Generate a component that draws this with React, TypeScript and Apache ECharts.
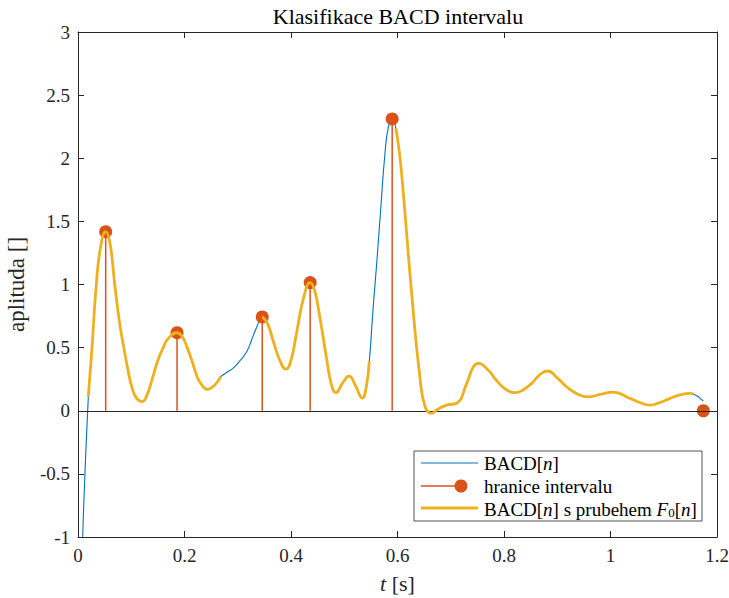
import React, { useEffect, useRef } from "react";
import * as echarts from "echarts";

const tValues = [
  0.0088, 0.0194, 0.0263, 0.0344, 0.0426, 0.052, 0.060, 0.069, 0.078, 0.086,
  0.094, 0.101, 0.110, 0.1208, 0.130, 0.140, 0.150, 0.160, 0.170, 0.186,
  0.196, 0.205, 0.2144, 0.222, 0.230, 0.243, 0.256, 0.268, 0.280, 0.292,
  0.305, 0.317, 0.326, 0.336, 0.346, 0.356, 0.3668, 0.378, 0.3906, 0.400,
  0.4106, 0.424, 0.436, 0.444, 0.4514, 0.467, 0.476, 0.4845, 0.497, 0.509,
  0.521, 0.534, 0.541, 0.547, 0.554, 0.561, 0.568, 0.5765, 0.583, 0.590,
  0.597, 0.604, 0.611, 0.6266, 0.642, 0.652, 0.6636, 0.675, 0.692, 0.711,
  0.730, 0.742, 0.752, 0.7706, 0.786, 0.803, 0.8206, 0.836, 0.852, 0.867,
  0.882, 0.900, 0.9175, 0.937, 0.958, 0.981, 1.005, 1.0366, 1.055, 1.074,
  1.093, 1.112, 1.130, 1.148, 1.1555, 1.1743,
];
const bacdValues = [
  -1.0, 0.111, 0.5, 1.0, 1.3, 1.418, 1.33, 1.0, 0.7, 0.5,
  0.32, 0.19, 0.1, 0.072, 0.13, 0.26, 0.4, 0.5, 0.575, 0.618,
  0.585, 0.5, 0.39, 0.29, 0.22, 0.17, 0.2, 0.27, 0.305, 0.34,
  0.4, 0.47, 0.56, 0.666, 0.743, 0.69, 0.55, 0.41, 0.33, 0.4,
  0.62, 0.9, 1.015, 0.958, 0.81, 0.41, 0.205, 0.143, 0.22, 0.275,
  0.2, 0.1, 0.18, 0.39, 0.8, 1.17, 1.57, 2.04, 2.25, 2.311,
  2.237, 2.03, 1.72, 0.93, 0.27, 0.03, -0.02, 0.01, 0.045, 0.06,
  0.217, 0.345, 0.375, 0.32, 0.24, 0.17, 0.143, 0.165, 0.217, 0.285,
  0.315, 0.26, 0.19, 0.135, 0.11, 0.13, 0.148, 0.098, 0.065, 0.045,
  0.065, 0.098, 0.125, 0.138, 0.133, 0.077,
];
// time ranges where the F0 contour exists
const f0Ranges = [
  [0.0194, 0.268],
  [0.346, 0.547],
  [0.597, 1.1555],
];
const boundaryT = [0.052, 0.186, 0.346, 0.436, 0.59, 1.1743];
const boundaryY = [1.418, 0.618, 0.743, 1.015, 2.311, 0];

const xTicks = { min: 0, max: 1.2, step: 0.2 };
const yTicks = { min: -1, max: 3, step: 0.5 };

const FONT = "Liberation Serif";
const BLUE = "#0072BD";
const RED = "#D95319";
const YELLOW = "#EDB120";
const AX = "#262626";

export default function App() {
  const ref = useRef<HTMLDivElement>(null);
  useEffect(() => {
    if (!ref.current) return;
    const chart = echarts.init(ref.current, undefined, { renderer: "svg" });
    const blueData = tValues.map((t, i) => [t, bacdValues[i]]);
    const yellowData = tValues.map((t, i) => {
      const inside = f0Ranges.some((r) => t >= r[0] - 1e-9 && t <= r[1] + 1e-9);
      return inside ? [t, bacdValues[i]] : [t, null];
    });
    const stemData = boundaryT.map((t, i) => [t, boundaryY[i]]);
    const axisCommon = {
      axisLine: { show: true, onZero: false, lineStyle: { color: AX, width: 1 } },
      axisTick: { show: true, inside: true, length: 6, lineStyle: { color: AX, width: 1 } },
      splitLine: { show: false },
    };
    const legendY = [463, 486, 508];
    const LEG = 19;
    chart.setOption({
      animation: false,
      grid: { left: 78, right: 12, top: 32, bottom: 61, containLabel: false, outerBoundsMode: "none" },
      xAxis: [
        {
          type: "value",
          min: xTicks.min,
          max: xTicks.max,
          interval: xTicks.step,
          position: "bottom",
          ...axisCommon,
          axisLabel: { color: AX, fontFamily: FONT, fontSize: 19, margin: 9 },
          name: "{i|t} [s]",
          nameLocation: "middle",
          nameGap: 35,
          nameTextStyle: {
            color: AX,
            fontFamily: FONT,
            fontSize: 22,
            rich: { i: { fontStyle: "italic", fontFamily: FONT, fontSize: 22, color: AX } },
          },
        },
        {
          type: "value",
          min: xTicks.min,
          max: xTicks.max,
          interval: xTicks.step,
          position: "top",
          ...axisCommon,
          axisLabel: { show: false },
        },
      ],
      yAxis: [
        {
          type: "value",
          min: yTicks.min,
          max: yTicks.max,
          interval: yTicks.step,
          position: "left",
          ...axisCommon,
          axisLabel: { color: AX, fontFamily: FONT, fontSize: 19, margin: 8 },
          name: "aplituda []",
          nameLocation: "middle",
          nameGap: 50,
          nameRotate: 90,
          nameTextStyle: { color: AX, fontFamily: FONT, fontSize: 23 },
        },
        {
          type: "value",
          min: yTicks.min,
          max: yTicks.max,
          interval: yTicks.step,
          position: "right",
          ...axisCommon,
          axisLabel: { show: false },
        },
      ],
      series: [
        {
          type: "line",
          name: "BACD[n]",
          data: blueData,
          smooth: 0.5,
          showSymbol: false,
          symbol: "none",
          lineStyle: { color: BLUE, width: 1.1 },
          z: 2,
          silent: true,
          markLine: {
            silent: true,
            symbol: "none",
            label: { show: false },
            lineStyle: { color: AX, width: 1, type: "solid" },
            data: [{ yAxis: 0 }],
          },
        },
        {
          type: "custom",
          name: "stems",
          data: stemData,
          z: 3,
          silent: true,
          renderItem: (params: any, api: any) => {
            const p0 = api.coord([api.value(0), 0]);
            const p1 = api.coord([api.value(0), api.value(1)]);
            return {
              type: "line",
              shape: { x1: p0[0], y1: p0[1], x2: p1[0], y2: p1[1] },
              style: { stroke: RED, lineWidth: 1.5 },
            };
          },
        },
        {
          type: "scatter",
          name: "hranice intervalu",
          data: stemData,
          symbol: "circle",
          symbolSize: 13,
          itemStyle: { color: RED, opacity: 1 },
          z: 4,
          silent: true,
        },
        {
          type: "line",
          name: "F0",
          data: yellowData,
          connectNulls: false,
          smooth: 0.5,
          showSymbol: false,
          symbol: "none",
          lineStyle: { color: YELLOW, width: 2.8 },
          z: 5,
          silent: true,
        },
      ],
      graphic: [
        {
          type: "text",
          x: 398,
          y: 16,
          style: {
            text: "Klasifikace BACD intervalu",
            fontFamily: FONT,
            fontSize: 22,
            fill: "#000",
            align: "center",
            verticalAlign: "middle",
          },
        },
        {
          type: "rect",
          shape: { x: 414, y: 451, width: 288, height: 70 },
          style: { fill: "#fff", stroke: AX, lineWidth: 0.8 },
          z: 100,
        },
        {
          type: "line",
          shape: { x1: 421, y1: legendY[0], x2: 478, y2: legendY[0] },
          style: { stroke: BLUE, lineWidth: 1.1 },
          z: 101,
        },
        {
          type: "line",
          shape: { x1: 421, y1: legendY[1], x2: 461, y2: legendY[1] },
          style: { stroke: RED, lineWidth: 1.5 },
          z: 101,
        },
        {
          type: "circle",
          shape: { cx: 461, cy: legendY[1], r: 6.5 },
          style: { fill: RED },
          z: 101,
        },
        {
          type: "line",
          shape: { x1: 421, y1: legendY[2], x2: 478, y2: legendY[2] },
          style: { stroke: YELLOW, lineWidth: 2.8 },
          z: 101,
        },
        {
          type: "text",
          x: 484,
          y: legendY[0],
          z: 101,
          style: {
            text: "{a|BACD[}{i|n}{a|]}",
            verticalAlign: "middle",
            rich: {
              a: { fontFamily: FONT, fontSize: LEG, fill: "#000", lineHeight: 22 },
              i: { fontFamily: FONT, fontSize: LEG, fontStyle: "italic", fill: "#000", lineHeight: 22 },
            },
          },
        },
        {
          type: "text",
          x: 484,
          y: legendY[1],
          z: 101,
          style: {
            text: "hranice intervalu",
            verticalAlign: "middle",
            fontFamily: FONT,
            fontSize: LEG,
            fill: "#000",
          },
        },
        {
          type: "text",
          x: 484,
          y: legendY[2],
          z: 101,
          style: {
            text: "{a|BACD[}{i|n}{a|] s prubehem }{i|F}{s|0}{a|[}{i|n}{a|]}",
            verticalAlign: "middle",
            rich: {
              a: { fontFamily: FONT, fontSize: LEG, fill: "#000", lineHeight: 22, verticalAlign: "bottom" },
              i: { fontFamily: FONT, fontSize: LEG, fontStyle: "italic", fill: "#000", lineHeight: 22, verticalAlign: "bottom" },
              s: { fontFamily: FONT, fontSize: 13, fill: "#000", lineHeight: 13, verticalAlign: "bottom" },
            },
          },
        },
      ],
    });
    return () => chart.dispose();
  }, []);
  return (
    <div
      ref={ref}
      style={{ position: "fixed", left: 0, top: 0, width: 729, height: 598, background: "#fff" }}
    />
  );
}
